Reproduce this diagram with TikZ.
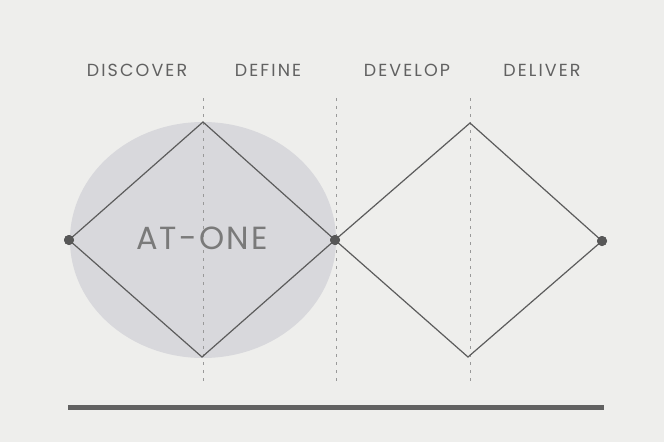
\documentclass[tikz,border=0pt]{standalone}
\usepackage{fontspec}
\setmainfont{Poppins}
\newfontfamily\labelfont[LetterSpace=12]{Poppins}
\newfontfamily\bigfont[LetterSpace=7]{Poppins}
\begin{document}
\begin{tikzpicture}[x=1pt,y=-1pt,
  phase/.style={font=\labelfont\fontsize{17.5}{19}\selectfont, text=black!62, inner sep=0pt, anchor=center},
  diamondline/.style={draw=black!64, line width=1.2pt, line join=miter},
  guide/.style={draw=black!40, line width=0.6pt, dash pattern=on 3pt off 5pt},
  dotnode/.style={circle, fill=black!66, minimum size=10pt, inner sep=0pt},
  ]
  \definecolor{paper}{HTML}{EEEEEC}
  \definecolor{blob}{HTML}{D8D8DC}
  \useasboundingbox (0,0) rectangle (664,442);
  \fill[paper] (0,0) rectangle (664,442);
  % shaded ellipse
  \fill[blob] (203,240) ellipse [x radius=133, y radius=118];
  % guides
  \coordinate (g1t) at (203,98);  \coordinate (g1b) at (203,382);
  \coordinate (g2t) at (336,98);  \coordinate (g2b) at (336,382);
  \coordinate (g3t) at (470,98);  \coordinate (g3b) at (470,382);
  \draw[guide] (g1t) -- (g1b);
  \draw[guide] (g2t) -- (g2b);
  \draw[guide] (g3t) -- (g3b);
  % diamond corners
  \coordinate (T1) at (203,122);
  \coordinate (B1) at (202,357);
  \coordinate (T2) at (470,123);
  \coordinate (B2) at (468,357);
  \node[dotnode] (L) at (69,240) {};
  \node[dotnode] (M) at (335,240) {};
  \node[dotnode] (R) at (602,241) {};
  \draw[diamondline] (L.center) -- (T1) -- (M.center) -- (B1) -- cycle;
  \draw[diamondline] (M.center) -- (T2) -- (R.center) -- (B2) -- cycle;
  \node[dotnode] at (L) {};
  \node[dotnode] at (M) {};
  \node[dotnode] at (R) {};
  % labels
  \node[phase] (discover) at (137,70) {DISCOVER};
  \node[phase] (define) at (268,70) {DEFINE};
  \node[phase] (develop) at (407,70) {DEVELOP};
  \node[phase] (deliver) at (542,70) {DELIVER};
  \node[font=\bigfont\fontsize{32}{36}\selectfont, text=black!52, inner sep=0pt] (atone) at (202,238) {AT-ONE};
  % bottom rule
  \coordinate (rl) at (68,407);
  \coordinate (rr) at (604,407);
  \draw[draw=black!62, line width=5pt] (rl) -- (rr);
\end{tikzpicture}
\end{document}
